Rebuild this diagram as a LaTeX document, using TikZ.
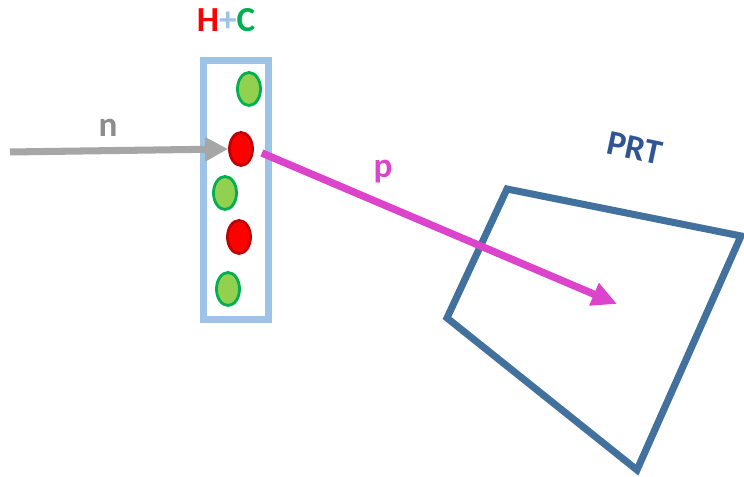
\documentclass[tikz,border=0pt]{standalone}
\usepackage{fontspec}
\setmainfont{Carlito}
\usetikzlibrary{arrows.meta,shapes.geometric}
\definecolor{tgtblue}{HTML}{9DC3E6}
\definecolor{hgreen}{HTML}{92D050}
\definecolor{cgreen}{HTML}{00B050}
\definecolor{hred}{HTML}{C00000}
\definecolor{beamgray}{HTML}{A6A6A6}
\definecolor{pmag}{HTML}{DD44CC}
\definecolor{prtblue}{HTML}{41719C}
\definecolor{prttext}{HTML}{2F5597}
\begin{document}
\begin{tikzpicture}[x=0.01cm,y=-0.01cm,
			carbon/.style={ellipse,draw=cgreen,fill=hgreen,line width=0.8pt,minimum width=0.23cm,minimum height=0.33cm,inner sep=0pt},
			proton/.style={ellipse,draw=hred,fill=red,line width=0.8pt,minimum width=0.23cm,minimum height=0.33cm,inner sep=0pt},
			lbl/.style={font=\fontsize{10}{12}\selectfont\bfseries}
		]
		\useasboundingbox (0,0) rectangle (744,477);

		% target
		\node[draw=tgtblue,line width=2pt,minimum width=0.65cm,minimum height=2.59cm,inner sep=0pt] (target) at (236,190) {};
		\node[lbl] (hc) at (226,20) {\textcolor{red}{H}\textcolor{tgtblue}{+}\textcolor{cgreen}{C}};

		\node[carbon] (c1) at (249,89) {};
		\node[proton] (h1) at (241,149) {};
		\node[carbon] (c2) at (225,193) {};
		\node[proton] (h2) at (239,237) {};
		\node[carbon] (c3) at (228,289) {};

		% PRT
		\coordinate (q1) at (507,189);
		\coordinate (q2) at (741,236);
		\coordinate (q3) at (637,470);
		\coordinate (q4) at (447,318);
		\draw[prtblue,line width=2pt,line join=miter] (q1) -- (q2) -- (q3) -- (q4) -- cycle;
		\node[lbl,text=prttext,rotate=-12] (prt) at (635,148) {PRT};

		% beams
		\coordinate (nstart) at (10,152);
		\coordinate (pend) at (617,304);
		\draw[-{Triangle[width=0.23cm,length=0.23cm]},beamgray,line width=2pt] (nstart) -- (h1.west);
		\node[lbl,text=beamgray!85!black] (n) at (108,128) {n};
		\draw[-{Triangle[width=0.23cm,length=0.25cm]},pmag,line width=2.1pt] (h1.east) ++(8,4) -- (pend);
		\node[lbl,text=pmag] (p) at (383,172) {p};
	\end{tikzpicture}
\end{document}
